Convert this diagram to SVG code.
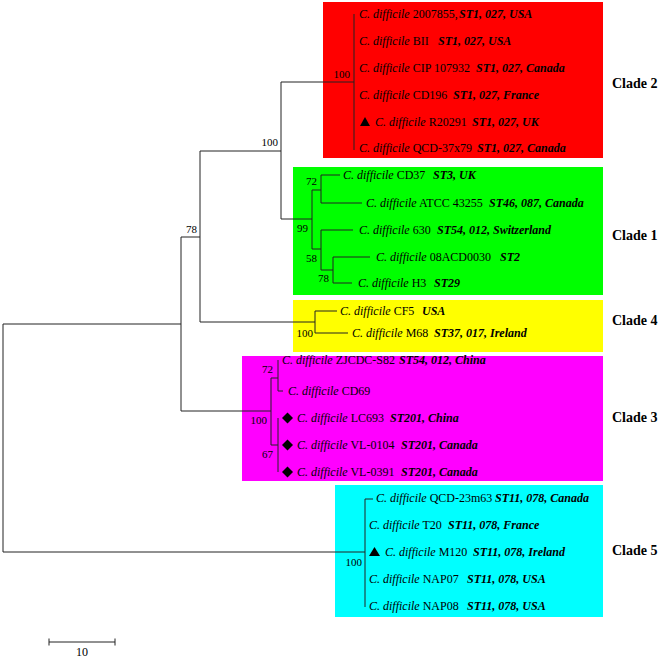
<svg xmlns="http://www.w3.org/2000/svg" width="661" height="658" viewBox="0 0 661 658">
<style>
text{font-family:"Liberation Serif","Times New Roman",serif;fill:#000}
.t{font-size:12px}
.i{font-style:italic}
.b{font-style:italic;font-weight:bold}
.bs{font-size:11px;text-anchor:end}
.cl{font-size:14px;font-weight:bold}
.tree path{fill:none;stroke:#222;stroke-width:1}
</style>
<rect width="661" height="658" fill="#fff"/>
<g id="boxes">
<rect id="box-clade2" x="323" y="2" width="280" height="156" fill="#ff0000"/>
<rect id="box-clade1" x="293" y="167" width="310" height="128" fill="#00ff00"/>
<rect id="box-clade4" x="293" y="300" width="310" height="52" fill="#ffff00"/>
<rect id="box-clade3" x="242" y="356" width="361" height="125" fill="#ff00ff"/>
<rect id="box-clade5" x="335" y="485" width="268" height="132" fill="#00ffff"/>
</g>
<g id="connectors" class="tree">
<path d="M3 324V552M3 324H181M3 552H365"/>
<path d="M181 237V411M181 237H200M181 411H271"/>
<path d="M200 151V322M200 151H281M200 322H315"/>
<path d="M281 82V219M281 82H354M281 219H312"/>
<path d="M354 14V150"/>
<path d="M312 190V249M312 190H321M312 249H321"/>
<path d="M321 175V203M321 175H340M321 203H362"/>
<path d="M321 230V270M321 230H353M321 270H333"/>
<path d="M333 257V283M333 257H370M333 283H352"/>
<path d="M315 311V333M315 311H337M315 333H348"/>
<path d="M271 378V445M271 378H278M271 445H278"/>
<path d="M278 360V391M278 391H283"/>
<path d="M278 418V472"/>
<path d="M365 499V607M365 499H373"/>
<path d="M49 642H115M49 638.5V645.5M115 638.5V645.5"/>
</g>
<g id="bootstrap">
<text class="bs" x="350" y="78">100</text>
<text class="bs" x="278" y="146">100</text>
<text class="bs" x="197" y="233">78</text>
<text class="bs" x="308" y="232">99</text>
<text class="bs" x="317" y="185">72</text>
<text class="bs" x="317" y="262">58</text>
<text class="bs" x="329" y="282">78</text>
<text class="bs" x="313" y="337">100</text>
<text class="bs" x="273" y="373">72</text>
<text class="bs" x="267" y="424">100</text>
<text class="bs" x="273" y="458">67</text>
<text class="bs" x="362" y="566">100</text>
</g>
<g id="leaf-2007855"><text class="t" x="359" y="18"><tspan class="i">C. difficile</tspan> 2007855, <tspan class="b" x="459">ST1, 027, USA</tspan></text></g>
<g id="leaf-BII"><text class="t" x="359" y="45"><tspan class="i">C. difficile</tspan> BII <tspan class="b" x="438">ST1, 027, USA</tspan></text></g>
<g id="leaf-CIP107932"><text class="t" x="359" y="72"><tspan class="i">C. difficile</tspan> CIP 107932 <tspan class="b" x="476">ST1, 027, Canada</tspan></text></g>
<g id="leaf-CD196"><text class="t" x="359" y="99"><tspan class="i">C. difficile</tspan> CD196 <tspan class="b" x="453">ST1, 027, France</tspan></text></g>
<g id="leaf-R20291"><polygon points="360,126 370,126 365,117" fill="#000"/><text class="t" x="375" y="126"><tspan class="i">C. difficile</tspan> R20291 <tspan class="b" x="472">ST1, 027, UK</tspan></text></g>
<g id="leaf-QCD37x79"><text class="t" x="359" y="152"><tspan class="i">C. difficile</tspan> QCD-37x79 <tspan class="b" x="477">ST1, 027, Canada</tspan></text></g>
<g id="leaf-CD37"><text class="t" x="343" y="179"><tspan class="i">C. difficile</tspan> CD37 <tspan class="b" x="433">ST3, UK</tspan></text></g>
<g id="leaf-ATCC43255"><text class="t" x="366" y="207"><tspan class="i">C. difficile</tspan> ATCC 43255 <tspan class="b" x="489">ST46, 087, Canada</tspan></text></g>
<g id="leaf-630"><text class="t" x="359" y="234"><tspan class="i">C. difficile</tspan> 630 <tspan class="b" x="437">ST54, 012, Switzerland</tspan></text></g>
<g id="leaf-08ACD0030"><text class="t" x="376" y="261"><tspan class="i">C. difficile</tspan> 08ACD0030 <tspan class="b" x="500">ST2</tspan></text></g>
<g id="leaf-H3"><text class="t" x="358" y="287"><tspan class="i">C. difficile</tspan> H3 <tspan class="b" x="434">ST29</tspan></text></g>
<g id="leaf-CF5"><text class="t" x="340" y="315"><tspan class="i">C. difficile</tspan> CF5 <tspan class="b" x="422">USA</tspan></text></g>
<g id="leaf-M68"><text class="t" x="352" y="337"><tspan class="i">C. difficile</tspan> M68 <tspan class="b" x="434">ST37, 017, Ireland</tspan></text></g>
<g id="leaf-ZJCDC-S82"><text class="t" x="282" y="364"><tspan class="i">C. difficile</tspan> ZJCDC-S82 <tspan class="b" x="399">ST54, 012, China</tspan></text></g>
<g id="leaf-CD69"><text class="t" x="288" y="395"><tspan class="i">C. difficile</tspan> CD69</text></g>
<g id="leaf-LC693"><polygon points="287.5,412.5 293,418 287.5,423.5 282,418" fill="#000"/><text class="t" x="297" y="422"><tspan class="i">C. difficile</tspan> LC693 <tspan class="b" x="390">ST201, China</tspan></text></g>
<g id="leaf-VL-0104"><polygon points="287.5,439.5 293,445 287.5,450.5 282,445" fill="#000"/><text class="t" x="297" y="449"><tspan class="i">C. difficile</tspan> VL-0104 <tspan class="b" x="401">ST201, Canada</tspan></text></g>
<g id="leaf-VL-0391"><polygon points="287.5,466.5 293,472 287.5,477.5 282,472" fill="#000"/><text class="t" x="297" y="476"><tspan class="i">C. difficile</tspan> VL-0391 <tspan class="b" x="401">ST201, Canada</tspan></text></g>
<g id="leaf-QCD-23m63"><text class="t" x="376" y="502"><tspan class="i">C. difficile</tspan> QCD-23m63 <tspan class="b" x="495">ST11, 078, Canada</tspan></text></g>
<g id="leaf-T20"><text class="t" x="369" y="529"><tspan class="i">C. difficile</tspan> T20 <tspan class="b" x="448">ST11, 078, France</tspan></text></g>
<g id="leaf-M120"><polygon points="369,556 380,556 374.5,547" fill="#000"/><text class="t" x="385" y="556"><tspan class="i">C. difficile</tspan> M120 <tspan class="b" x="473">ST11, 078, Ireland</tspan></text></g>
<g id="leaf-NAP07"><text class="t" x="369" y="583"><tspan class="i">C. difficile</tspan> NAP07 <tspan class="b" x="467">ST11, 078, USA</tspan></text></g>
<g id="leaf-NAP08"><text class="t" x="369" y="610"><tspan class="i">C. difficile</tspan> NAP08 <tspan class="b" x="467">ST11, 078, USA</tspan></text></g>
<g id="clade-labels">
<text class="cl" x="612" y="88">Clade 2</text>
<text class="cl" x="612" y="240">Clade 1</text>
<text class="cl" x="612" y="325">Clade 4</text>
<text class="cl" x="612" y="422">Clade 3</text>
<text class="cl" x="612" y="555">Clade 5</text>
</g>
<g id="scale"><text class="t" x="82" y="656" text-anchor="middle">10</text></g>
</svg>
